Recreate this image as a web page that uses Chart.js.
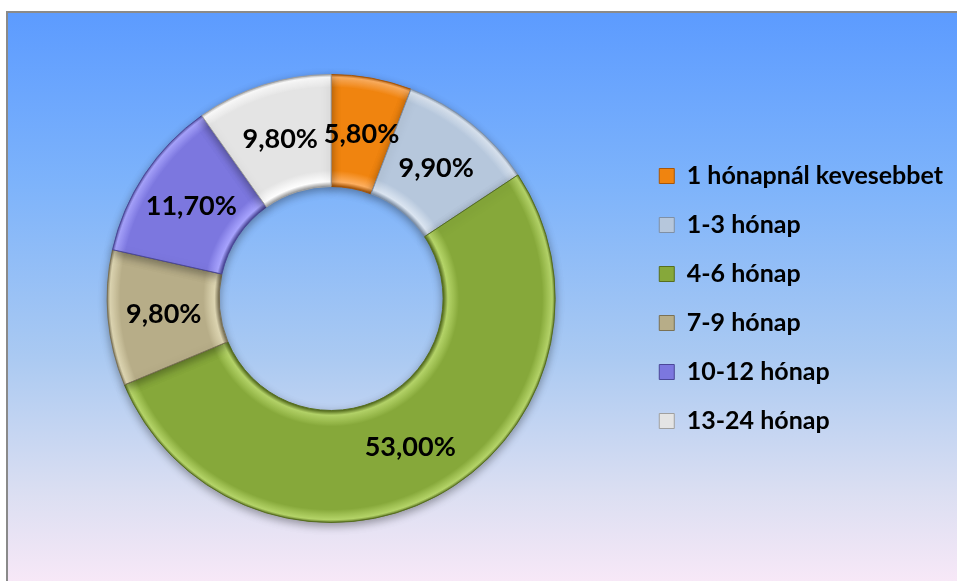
<!DOCTYPE html>
<html>
<head>
<meta charset="utf-8">
<script src="https://cdn.jsdelivr.net/npm/chart.js@4"></script>
<style>
  html, body { margin: 0; padding: 0; background: #fff; overflow: hidden; }
  canvas { display: block; }
</style>
</head>
<body>
<canvas id="chart" width="957" height="581"></canvas>
<script>
const categories = ['1 hónapnál kevesebbet', '1-3 hónap', '4-6 hónap', '7-9 hónap', '10-12 hónap', '13-24 hónap'];
const shares = [5.8, 9.9, 53.0, 9.8, 11.7, 9.8];

const baseColors = ['#f0840f', '#b6c7dc', '#86a83a', '#b7ad88', '#7c77df', '#e4e4e4'];
const lightColors = ['#ffb060', '#dce6f2', '#b7d76a', '#e0d8b4', '#a8a4ff', '#ffffff'];
const darkColors = ['#a85608', '#7f90a6', '#566e1e', '#7a7155', '#4b4798', '#a0a0a0'];

const fmt = v => v.toFixed(2).replace('.', ',') + '%';

// radial "bevel" fill for each slice
function sliceFill(ctx) {
  const area = ctx.chart.chartArea;
  if (!area) return baseColors[ctx.dataIndex];
  const cx = (area.left + area.right) / 2;
  const cy = (area.top + area.bottom) / 2;
  const outer = Math.min(area.right - area.left, area.bottom - area.top) / 2;
  const inner = outer * 0.5;
  const g = ctx.chart.ctx.createRadialGradient(cx, cy, inner, cx, cy, outer);
  const i = ctx.dataIndex;
  g.addColorStop(0, darkColors[i]);
  g.addColorStop(0.04, lightColors[i]);
  g.addColorStop(0.14, baseColors[i]);
  g.addColorStop(0.88, baseColors[i]);
  g.addColorStop(0.97, lightColors[i]);
  g.addColorStop(1, darkColors[i]);
  return g;
}

// gradient panel with grey top/left frame
const panelPlugin = {
  id: 'panel',
  beforeDraw(chart) {
    const c = chart.ctx;
    const w = chart.width, h = chart.height;
    c.save();
    c.fillStyle = '#fff';
    c.fillRect(0, 0, w, h);
    const g = c.createLinearGradient(0, 12, 0, h);
    g.addColorStop(0, '#5c9bff');
    g.addColorStop(0.3, '#7db3fb');
    g.addColorStop(0.6, '#a9c9f2');
    g.addColorStop(0.85, '#dcdff2');
    g.addColorStop(1, '#f7e8f7');
    c.fillStyle = g;
    c.fillRect(7, 12, w - 7, h - 12);
    c.strokeStyle = '#8a8a8a';
    c.lineWidth = 2;
    c.beginPath();
    c.moveTo(7, h);
    c.lineTo(7, 12);
    c.lineTo(w, 12);
    c.stroke();
    c.restore();
  }
};

const shadowPlugin = {
  id: 'shadow',
  beforeDatasetsDraw(chart) {
    const c = chart.ctx;
    c.save();
    c.shadowColor = 'rgba(0,0,0,0.35)';
    c.shadowBlur = 8;
    c.shadowOffsetY = 3;
  },
  afterDatasetsDraw(chart) {
    chart.ctx.restore();
  }
};

const labelPlugin = {
  id: 'sliceLabels',
  afterDatasetsDraw(chart) {
    const c = chart.ctx;
    const meta = chart.getDatasetMeta(0);
    c.save();
    c.font = 'bold 27px Lato';
    c.fillStyle = '#000';
    c.textAlign = 'center';
    c.textBaseline = 'middle';
    meta.data.forEach((arc, i) => {
      const p = arc.tooltipPosition();
      c.fillText(fmt(shares[i]), p.x, p.y + 1);
    });
    c.restore();
  }
};

new Chart(document.getElementById('chart').getContext('2d'), {
  type: 'doughnut',
  data: {
    labels: categories,
    datasets: [{
      data: shares,
      backgroundColor: sliceFill,
      borderColor: darkColors,
      borderWidth: 1,
      hoverOffset: 0
    }]
  },
  options: {
    responsive: false,
    animation: false,
    cutout: '50%',
    layout: {
      padding: { top: 74, bottom: 58, left: 27, right: 4 }
    },
    plugins: {
      tooltip: { enabled: false },
      legend: {
        position: 'right',
        labels: {
          boxWidth: 15,
          boxHeight: 15,
          padding: 24,
          color: '#000',
          font: { family: 'Lato', weight: 'bold', size: 25 },
          generateLabels(chart) {
            return categories.map((name, i) => ({
              text: name,
              fillStyle: baseColors[i],
              strokeStyle: darkColors[i],
              lineWidth: 1,
              index: i
            }));
          }
        }
      }
    }
  },
  plugins: [panelPlugin, shadowPlugin, labelPlugin]
});
</script>
</body>
</html>
